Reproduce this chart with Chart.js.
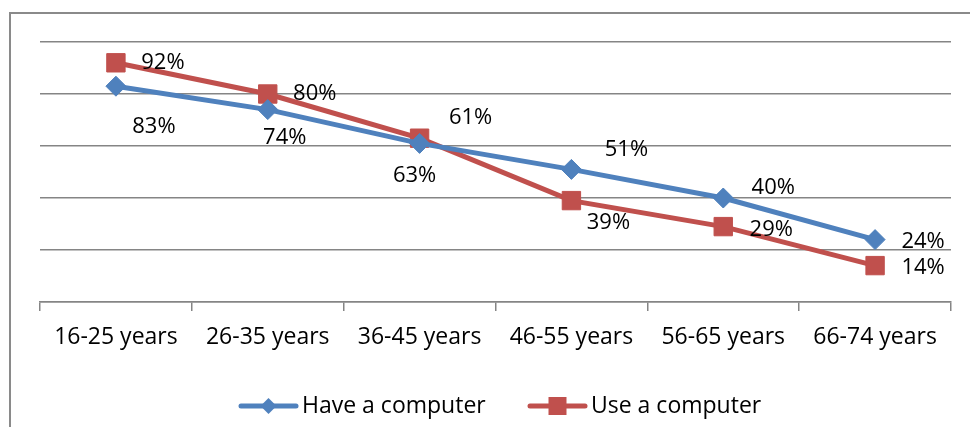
<!DOCTYPE html>
<html>
<head>
<meta charset="utf-8">
<script src="https://cdn.jsdelivr.net/npm/chart.js@4/dist/chart.umd.min.js"></script>
<style>
  html, body { margin: 0; padding: 0; background: #fff; }
  #wrap { width: 970px; height: 427px; }
</style>
</head>
<body>
<div id="wrap"><canvas id="chart" width="970" height="427"></canvas></div>
<script>
// age groups + shares (%)
const ageGroups = ['16-25 years', '26-35 years', '36-45 years', '46-55 years', '56-65 years', '66-74 years'];
const haveComputer = [83, 74, 61, 51, 40, 24];
const useComputer = [92, 80, 63, 39, 29, 14];
const yTicks = [0, 20, 40, 60, 80, 100];

const FONT = "'Open Sans', 'Noto Sans', sans-serif";
const GRID = '#858585';

// frame: only top + left edges are visible in the picture
const framePlugin = {
  id: 'frame',
  beforeDraw(chart) {
    const c = chart.ctx;
    c.save();
    c.fillStyle = '#fff';
    c.fillRect(0, 0, chart.width, chart.height);
    c.strokeStyle = '#8a8a8a';
    c.lineWidth = 2;
    c.beginPath();
    c.moveTo(10, chart.height);
    c.lineTo(10, 13);
    c.lineTo(chart.width, 13);
    c.stroke();
    c.restore();
  }
};

// value labels, nudged per point like the hand-placed Excel labels
const valueLabels = {
  id: 'valueLabels',
  afterDatasetsDraw(chart, args, opts) {
    const c = chart.ctx;
    c.save();
    c.font = `${opts.size}px ${FONT}`;
    c.fillStyle = '#000';
    c.textAlign = 'center';
    c.textBaseline = 'middle';
    chart.data.datasets.forEach((ds, di) => {
      const meta = chart.getDatasetMeta(di);
      const offs = opts.offsets[di];
      meta.data.forEach((pt, i) => {
        const [dx, dy] = offs[i];
        c.fillText(ds.data[i] + '%', pt.x + dx, pt.y + dy);
      });
    });
    c.restore();
  }
};

// legend drawn by hand: line + marker + text
const lineLegend = {
  id: 'lineLegend',
  afterDraw(chart, args, opts) {
    const c = chart.ctx;
    c.save();
    c.font = `${opts.size}px ${FONT}`;
    c.textBaseline = 'middle';
    c.textAlign = 'left';
    chart.data.datasets.forEach((ds, di) => {
      const x = opts.xs[di], y = opts.y;
      c.strokeStyle = ds.borderColor;
      c.lineWidth = 5;
      c.lineCap = 'round';
      c.beginPath();
      c.moveTo(x, y);
      c.lineTo(x + 55, y);
      c.stroke();
      const cx = x + 27.5;
      c.fillStyle = ds.borderColor;
      c.beginPath();
      if (ds.pointStyle === 'rectRot') {
        c.moveTo(cx - 8, y); c.lineTo(cx, y - 8); c.lineTo(cx + 8, y); c.lineTo(cx, y + 8);
      } else {
        c.rect(cx - 9, y - 9, 18, 18);
      }
      c.closePath();
      c.fill();
      c.fillStyle = '#000';
      c.fillText(ds.label, x + 61, y);
    });
    c.restore();
  }
};

new Chart(document.getElementById('chart'), {
  type: 'line',
  data: {
    labels: ageGroups,
    datasets: [
      {
        label: 'Have a computer',
        data: haveComputer,
        borderColor: '#4f81bd',
        backgroundColor: '#4f81bd',
        borderWidth: 5,
        tension: 0,
        pointStyle: 'rectRot',
        pointRadius: 10,
        pointBorderWidth: 1,
        pointBackgroundColor: '#4f81bd',
        pointBorderColor: '#4f81bd'
      },
      {
        label: 'Use a computer',
        data: useComputer,
        borderColor: '#c0504d',
        backgroundColor: '#c0504d',
        borderWidth: 5,
        tension: 0,
        pointStyle: 'rect',
        pointRadius: 13,
        pointBorderWidth: 1,
        pointBackgroundColor: '#c0504d',
        pointBorderColor: '#c0504d'
      }
    ]
  },
  options: {
    responsive: false,
    animation: false,
    devicePixelRatio: 1,
    layout: { padding: { left: 40, right: 19, top: 42, bottom: 0 } },
    plugins: {
      legend: { display: false },
      tooltip: { enabled: false },
      valueLabels: {
        size: 22,
        offsets: [
          [[38, 41], [17, 28], [51, -26], [55, -20], [50, -10], [48, 2]],
          [[47, 0], [47, 0], [-5, 38], [37, 22], [48, 3], [48, 2]]
        ]
      },
      lineLegend: { size: 23, y: 406, xs: [241, 530] }
    },
    scales: {
      x: {
        offset: true,
        grid: { display: true, drawOnChartArea: false, offset: true, tickLength: 9, color: GRID, lineWidth: 1.5 },
        border: { color: GRID, width: 1.5 },
        ticks: { color: '#000', font: { family: FONT, size: 23 }, padding: 13, maxRotation: 0, autoSkip: false },
        afterFit(s) { s.height = 125; }
      },
      y: {
        min: 0,
        max: 100,
        afterBuildTicks(s) { s.ticks = yTicks.map(v => ({ value: v })); },
        ticks: { display: false },
        grid: { color: GRID, lineWidth: 1.5, drawTicks: false },
        border: { display: false },
        afterFit(s) { s.width = 0; }
      }
    }
  },
  plugins: [framePlugin, valueLabels, lineLegend]
});
</script>
</body>
</html>
